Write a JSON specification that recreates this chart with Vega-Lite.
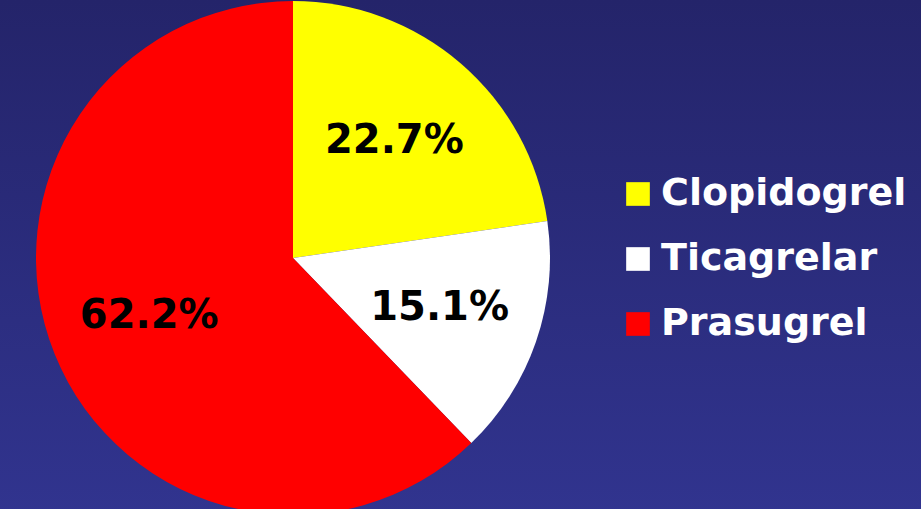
{
  "$schema": "https://vega.github.io/schema/vega-lite/v6.json",
  "padding": 0,
  "spacing": 0,
  "background": "#2a2b7c",
  "data": {"values": [
    {"drug": "Clopidogrel", "share": 0.227, "rank": 1},
    {"drug": "Ticagrelar", "share": 0.151, "rank": 2},
    {"drug": "Prasugrel", "share": 0.622, "rank": 3}
  ]},
  "hconcat": [
    {
      "width": 586,
      "height": 516,
      "view": {"stroke": null, "fill": {"gradient": "linear", "x1": 0, "y1": 0, "x2": 0, "y2": 1, "stops": [{"offset": 0, "color": "#24246a"}, {"offset": 1, "color": "#31348f"}]}},
      "layer": [
        {
          "mark": {"type": "arc", "outerRadius": 257},
          "encoding": {
            "theta": {"field": "share", "type": "quantitative", "stack": true},
            "order": {"field": "rank", "type": "quantitative"},
            "color": {
              "field": "drug", "type": "nominal",
              "scale": {"domain": ["Clopidogrel", "Ticagrelar", "Prasugrel"], "range": ["#ffff00", "#ffffff", "#ff0000"]},
              "legend": {
                "title": null, "orient": "none", "legendX": 619, "legendY": 175,
                "symbolType": "square", "symbolSize": 560, "symbolStrokeWidth": 0, "symbolOpacity": 1,
                "labelFont": "DejaVu Sans", "labelFontWeight": "bold", "labelFontSize": 38, "labelColor": "#ffffff",
                "labelOffset": 4, "rowPadding": 27, "padding": 0, "labelLimit": 400
              }
            }
          }
        },
        {
          "mark": {"type": "text", "radius": 155, "font": "DejaVu Sans", "fontWeight": "bold", "fontSize": 40, "color": "#000000"},
          "encoding": {
            "theta": {"field": "share", "type": "quantitative", "stack": true},
            "order": {"field": "rank", "type": "quantitative"},
            "text": {"field": "share", "type": "quantitative", "format": ".1%"}
          }
        }
      ]
    },
    {
      "width": 335,
      "height": 516,
      "view": {"stroke": null, "fill": {"gradient": "linear", "x1": 0, "y1": 0, "x2": 0, "y2": 1, "stops": [{"offset": 0, "color": "#24246a"}, {"offset": 1, "color": "#31348f"}]}},
      "mark": {"type": "text"},
      "encoding": {"text": {"value": ""}}
    }
  ]
}
